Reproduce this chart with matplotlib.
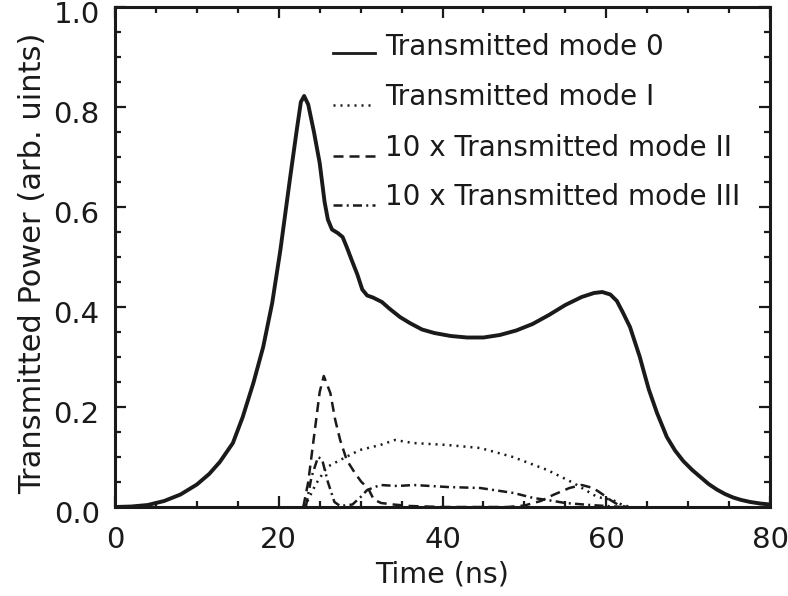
import matplotlib
matplotlib.use("Agg")
import matplotlib.pyplot as plt
from matplotlib.lines import Line2D
from matplotlib.ticker import MultipleLocator
from matplotlib.transforms import ScaledTranslation

plt.rcParams['font.family'] = ['DejaVu Sans']

# Mode 0 (transmitted power, solid)
t0 = [0, 2, 4, 6, 8, 10, 11.5, 12.8, 14.4, 15.6, 16.9, 18.1, 19.2, 20.2, 21.4, 22.2,
      22.7, 23.1, 23.6, 24.3, 25.0, 25.6, 26.0, 26.5, 27.2, 27.8, 28.3, 29.0, 29.6,
      30.2, 30.8, 31.5, 32.6, 33.5, 34.8, 36, 37.5, 39, 41, 43, 45, 47, 49, 51, 53,
      55, 57, 58.5, 59.5, 60.5, 61.3, 62, 62.9, 63.5, 64.1, 64.6, 65.2, 66.2, 67.4,
      68.4, 69.4, 70.5, 71.5, 72.5, 73.5, 74.5, 75.5, 76.5, 77.6, 78.8, 80]
p0 = [0.0, 0.001, 0.004, 0.012, 0.025, 0.045, 0.066, 0.09, 0.128, 0.18, 0.248, 0.32,
      0.408, 0.514, 0.66, 0.754, 0.81, 0.822, 0.805, 0.75, 0.688, 0.61, 0.575, 0.555,
      0.548, 0.54, 0.52, 0.49, 0.465, 0.435, 0.423, 0.419, 0.41, 0.397, 0.38, 0.368,
      0.355, 0.348, 0.342, 0.339, 0.339, 0.344, 0.353, 0.366, 0.384, 0.404, 0.42,
      0.428, 0.43, 0.425, 0.412, 0.39, 0.36, 0.33, 0.30, 0.27, 0.235, 0.188, 0.14,
      0.113, 0.092, 0.074, 0.06, 0.046, 0.035, 0.026, 0.019, 0.014, 0.01, 0.007, 0.005]

# Mode I (dotted)
t1 = [23.0, 23.4, 24.5, 25.9, 27.5, 29.9, 32.4, 34.2, 36.4, 40.6, 44.6, 48.6, 52.8,
      56.0, 58.9, 60.8, 62.0, 63.0]
p1 = [0.0, 0.008, 0.045, 0.08, 0.094, 0.114, 0.124, 0.134, 0.128, 0.124, 0.118, 0.1,
      0.074, 0.048, 0.02, 0.014, 0.004, 0.0]

# 10 x Mode II (dashed)
t2 = [23.0, 23.6, 24.3, 25.0, 25.5, 26.3, 26.9, 27.5, 28.3, 29.3, 30.1, 30.9, 31.6,
      32.5, 34, 36, 40, 48, 50, 52, 53.5, 55.5, 57, 58.4, 59.5, 60.5, 61.5, 62.5]
p2 = [0.0, 0.05, 0.14, 0.23, 0.262, 0.228, 0.174, 0.134, 0.094, 0.068, 0.05, 0.038,
      0.015, 0.008, 0.005, 0.002, 0.0, 0.0, 0.003, 0.012, 0.024, 0.038, 0.044, 0.038,
      0.026, 0.014, 0.004, 0.0]

# 10 x Mode III (dash-dot)
t3 = [23.3, 24.0, 24.8, 25.3, 26.0, 26.8, 27.5, 29.0, 30.0, 30.8, 32.4, 34.5, 36.5,
      40.6, 44.6, 48.7, 51.1, 52.8, 55, 58, 62]
p3 = [0.0, 0.06, 0.1, 0.095, 0.05, 0.01, 0.002, 0.005, 0.02, 0.034, 0.044, 0.042,
      0.044, 0.04, 0.038, 0.028, 0.018, 0.014, 0.008, 0.004, 0.0]

labels = ["Transmitted mode 0", "Transmitted mode I",
          "10 x Transmitted mode II", "10 x Transmitted mode III"]

x_ticks = [0, 20, 40, 60, 80]
y_ticks = [0.0, 0.2, 0.4, 0.6, 0.8, 1.0]

fig = plt.figure(figsize=(7.88, 5.96), dpi=100)
ax = fig.add_axes([115 / 788, 1 - 507 / 596, 655 / 788, 500 / 596])

ink = "#1a1a1a"
styles = [
    dict(lw=2.8, ls="-"),
    dict(lw=1.8, ls=(0, (0.8, 2.0))),
    dict(lw=1.8, ls=(0, (4.0, 2.4))),
    dict(lw=1.8, ls=(0, (3.6, 1.7, 0.8, 1.7))),
]

for (t, p), st in zip([(t0, p0), (t1, p1), (t2, p2), (t3, p3)], styles):
    ax.plot(t, p, color=ink, solid_joinstyle="round", **st)

ax.set_xlim(0, 80)
ax.set_ylim(0, 1.0)
ax.set_xticks(x_ticks)
ax.set_yticks(y_ticks)
ax.set_xticklabels([str(v) for v in x_ticks])
ax.set_yticklabels([f"{v:.1f}" for v in y_ticks])
ax.xaxis.set_minor_locator(MultipleLocator(5))
ax.yaxis.set_minor_locator(MultipleLocator(0.05))
ax.tick_params(which="both", direction="in", top=True, right=True,
               color=ink, width=1.6)
ax.tick_params(which="major", length=8)
ax.tick_params(which="minor", length=4)
ax.tick_params(axis="x", which="major", labelsize=21, pad=14, labelcolor=ink)
ax.tick_params(axis="y", which="major", labelsize=21, pad=11, labelcolor=ink)

# y tick labels sit a little below their ticks
shift = ScaledTranslation(0, -5 / 100, fig.dpi_scale_trans)
for lbl in ax.get_yticklabels():
    lbl.set_transform(lbl.get_transform() + shift)

for s in ax.spines.values():
    s.set_linewidth(2.2)
    s.set_color(ink)

ax.set_xlabel("Time (ns)", fontsize=20.5, color=ink)
ax.xaxis.set_label_coords(0.5, -0.108)
ax.set_ylabel("Transmitted Power (arb. uints)", fontsize=22, color=ink)
ax.yaxis.set_label_coords(-0.104, 0.487)

# key drawn inside the plot: short line sample at the text baseline
rows_line_y = [0.908, 0.804, 0.702, 0.604]
rows_text_y = [0.92, 0.82, 0.718, 0.62]
for st, lab, ly, ty in zip(styles, labels, rows_line_y, rows_text_y):
    ax.add_line(Line2D([0.333, 0.397], [ly, ly], transform=ax.transAxes,
                       color=ink, lw=min(st["lw"], 2.0), ls=st["ls"]))
    ax.text(0.412, ty, lab, transform=ax.transAxes, fontsize=20, color=ink,
            va="center", ha="left")

fig.savefig("out.png", dpi=100)
